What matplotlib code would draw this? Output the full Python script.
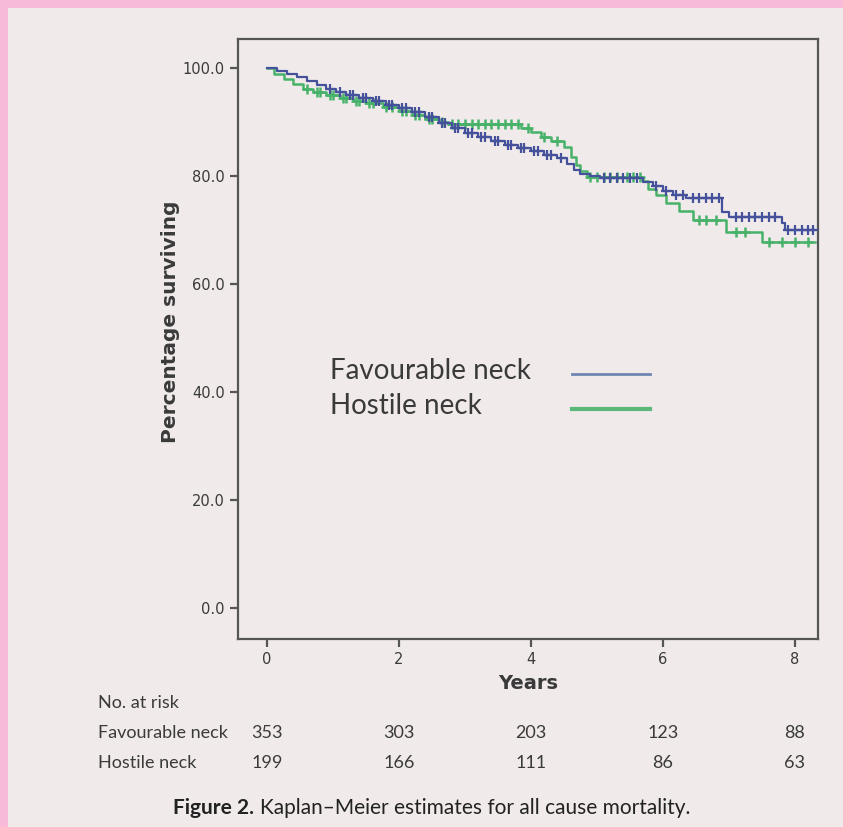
import numpy as np
import matplotlib.pyplot as plt
import matplotlib.transforms as mtransforms

# Kaplan-Meier step data (years, % surviving)
fav_t = [0, 0.15, 0.3, 0.45, 0.6, 0.75, 0.9, 1.05, 1.2, 1.4, 1.6, 1.8, 2.0, 2.2, 2.4,
         2.6, 2.8, 3.0, 3.2, 3.4, 3.6, 3.8, 4.0, 4.2, 4.4, 4.55, 4.65, 4.75, 4.9, 5.05,
         5.7, 5.85, 6.0, 6.15, 6.35, 6.9, 7.0, 7.8, 7.85, 8.3]
fav_s = [100, 99.4, 98.9, 98.3, 97.6, 96.9, 96.2, 95.6, 95.0, 94.5, 93.9, 93.2, 92.6, 91.8, 90.9,
         89.8, 88.9, 88.0, 87.3, 86.6, 85.8, 85.2, 84.6, 84.0, 83.4, 82.3, 81.2, 80.4, 80.0, 79.7,
         78.9, 78.1, 77.2, 76.6, 75.9, 73.4, 72.4, 71.3, 70.0, 70.0]
fav_cens = [0.95, 1.1, 1.25, 1.3, 1.45, 1.5, 1.65, 1.7, 1.85, 1.9, 2.05, 2.1, 2.25, 2.3, 2.45,
            2.5, 2.65, 2.7, 2.85, 2.9, 3.05, 3.1, 3.25, 3.3, 3.45, 3.5, 3.65, 3.7, 3.85, 3.9,
            4.05, 4.1, 4.25, 4.3, 4.45, 5.1, 5.2, 5.3, 5.4, 5.5, 5.6, 5.9, 6.05, 6.2, 6.3, 6.45,
            6.55, 6.65, 6.75, 6.85, 7.1, 7.2, 7.3, 7.4, 7.5, 7.6, 7.7, 7.9, 8.0, 8.1, 8.2, 8.28]

hos_t = [0, 0.1, 0.25, 0.4, 0.55, 0.7, 0.9, 1.1, 1.3, 1.5, 1.75, 2.0, 2.2, 2.4, 2.6, 2.75,
         3.85, 4.0, 4.15, 4.3, 4.5, 4.6, 4.68, 4.75, 4.85, 5.7, 5.78, 5.9, 6.05, 6.25, 6.45,
         6.95, 7.5, 8.3]
hos_s = [100, 99.0, 98.0, 97.0, 96.1, 95.6, 95.1, 94.5, 94.0, 93.5, 92.9, 92.1, 91.3, 90.6, 90.0, 89.7,
         89.0, 88.1, 87.3, 86.6, 85.4, 83.6, 82.0, 81.0, 79.8, 79.1, 77.6, 76.5, 75.0, 73.5, 71.9,
         69.7, 67.9, 67.9]
hos_cens = [0.6, 0.75, 0.8, 0.95, 1.0, 1.15, 1.2, 1.35, 1.4, 1.55, 1.6, 1.8, 1.9, 2.05, 2.1,
            2.25, 2.3, 2.45, 2.5, 2.65, 2.8, 2.9, 3.0, 3.1, 3.2, 3.3, 3.4, 3.5, 3.6, 3.7, 3.8,
            3.95, 4.2, 4.4, 4.9, 5.0, 5.1, 5.2, 5.3, 5.45, 5.55, 5.65, 6.55, 6.65, 6.8, 7.1,
            7.25, 7.6, 7.8, 8.0, 8.2]

years_ticks = [0, 2, 4, 6, 8]
y_ticks = [0, 20, 40, 60, 80, 100]
groups = ["Favourable neck", "Hostile neck"]
risk_fav = [353, 303, 203, 123, 88]
risk_hos = [199, 166, 111, 86, 63]

blue = "#45519a"
green = "#48b26a"
bg = "#f0ebea"
pink = "#f7bbd8"
txt = "#3a3a3a"

fig = plt.figure(figsize=(8.43, 8.27), dpi=100, facecolor=pink)
# light page area inside the pink border
fig.patches.append(plt.Rectangle((8 / 843, 0), 1, 1 - 8 / 827, transform=fig.transFigure,
                                 facecolor=bg, edgecolor="none", zorder=-10))

ax = fig.add_axes([238 / 843, 1 - 639 / 827, (818 - 238) / 843, (639 - 39) / 827])
ax.set_facecolor(bg)


def surv_at(t, ts, ss):
    idx = np.searchsorted(ts, t, side="right") - 1
    return np.array(ss)[idx]


ax.step(hos_t, hos_s, where="post", color=green, lw=1.8, zorder=3)
ax.plot(hos_cens, surv_at(hos_cens, hos_t, hos_s), "+", color=green, ms=7, mew=1.8, zorder=3)
ax.step(fav_t, fav_s, where="post", color=blue, lw=1.6, zorder=4)
ax.plot(fav_cens, surv_at(fav_cens, fav_t, fav_s), "+", color=blue, ms=7, mew=1.6, zorder=4)

ax.set_xlim(-0.44, 8.35)
ax.set_ylim(-5.7, 105.4)
ax.set_xticks(years_ticks)
ax.set_yticks(y_ticks)
ax.set_yticklabels([f"{v:.1f}" for v in y_ticks])
for sp in ax.spines.values():
    sp.set_color("#555555")
    sp.set_linewidth(1.6)
ax.tick_params(colors="#555555", labelcolor=txt, labelsize=10.5, width=1.6, length=6)
ax.set_xlabel("Years", fontsize=14, fontweight="bold", color=txt, labelpad=5)
ax.set_ylabel("Percentage surviving", fontsize=14.5, fontweight="bold", color=txt)
ax.yaxis.set_label_coords(-0.1, 0.528)

# legend drawn as text + line segments like the original
fig.text(330 / 843, 1 - 371 / 827, groups[0], fontsize=20, family="Lato", color=txt, va="center")
fig.text(330 / 843, 1 - 406 / 827, groups[1], fontsize=20, family="Lato", color=txt, va="center")
fig.lines.append(plt.Line2D([572 / 843, 650 / 843], [1 - 374 / 827] * 2, color="#6f86b2",
                            lw=2, transform=fig.transFigure))
fig.lines.append(plt.Line2D([572 / 843, 650 / 843], [1 - 409 / 827] * 2, color="#5cb878",
                            lw=3, transform=fig.transFigure))

# number at risk table
tr = mtransforms.blended_transform_factory(ax.transData, fig.transFigure)
fig.text(98 / 843, 1 - 703 / 827, "No. at risk", fontsize=13, family="Lato", color=txt, va="center")
fig.text(98 / 843, 1 - 733 / 827, groups[0], fontsize=13, family="Lato", color=txt, va="center")
fig.text(98 / 843, 1 - 763 / 827, groups[1], fontsize=13, family="Lato", color=txt, va="center")
for t, a, b in zip(years_ticks, risk_fav, risk_hos):
    fig.text(t, 1 - 733 / 827, str(a), transform=tr, fontsize=13, family="Lato",
             color=txt, ha="center", va="center")
    fig.text(t, 1 - 763 / 827, str(b), transform=tr, fontsize=13, family="Lato",
             color=txt, ha="center", va="center")

fig.text(254 / 843, 1 - 808 / 827, "Figure 2.", fontsize=15, family="Lato", fontweight="bold",
         color="#222222", ha="right", va="center")
fig.text(260 / 843, 1 - 808 / 827, "Kaplan\u2013Meier estimates for all cause mortality.",
         fontsize=15, family="Lato", color="#222222", ha="left", va="center")

fig.savefig("out.png", dpi=100, facecolor=fig.get_facecolor())
